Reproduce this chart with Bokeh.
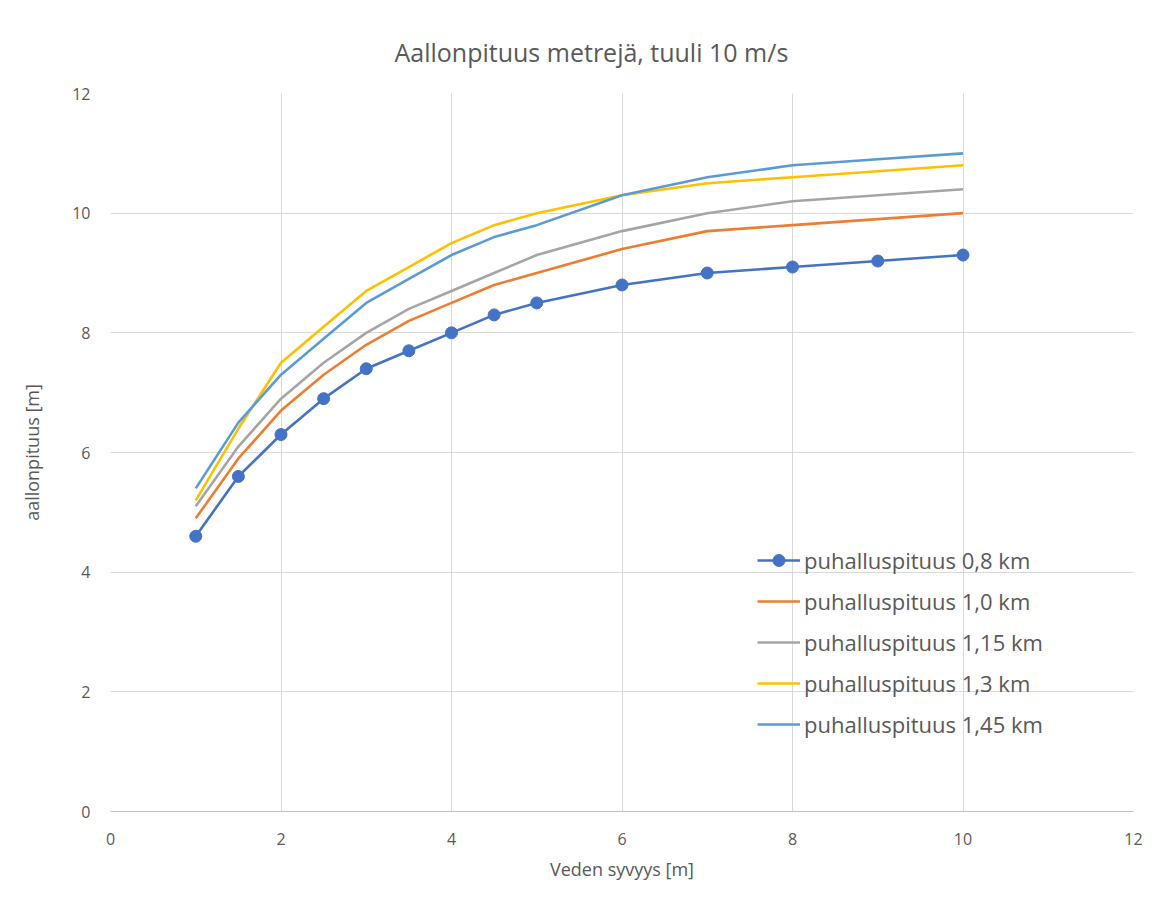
from bokeh.plotting import figure
from bokeh.models import Legend, LegendItem, FixedTicker, Range1d
from bokeh.embed import file_html
from bokeh.resources import INLINE

# Data
depth = [1, 1.5, 2, 2.5, 3, 3.5, 4, 4.5, 5, 6, 7, 8, 9, 10]
s_08 = [4.6, 5.6, 6.3, 6.9, 7.4, 7.7, 8.0, 8.3, 8.5, 8.8, 9.0, 9.1, 9.2, 9.3]
s_10 = [4.9, 5.9, 6.7, 7.3, 7.8, 8.2, 8.5, 8.8, 9.0, 9.4, 9.7, 9.8, 9.9, 10.0]
s_115 = [5.1, 6.1, 6.9, 7.5, 8.0, 8.4, 8.7, 9.0, 9.3, 9.7, 10.0, 10.2, 10.3, 10.4]
s_13 = [5.2, 6.4, 7.5, 8.1, 8.7, 9.1, 9.5, 9.8, 10.0, 10.3, 10.5, 10.6, 10.7, 10.8]
s_145 = [5.4, 6.5, 7.3, 7.9, 8.5, 8.9, 9.3, 9.6, 9.8, 10.3, 10.6, 10.8, 10.9, 11.0]
labels = ["puhalluspituus 0,8 km", "puhalluspituus 1,0 km", "puhalluspituus 1,15 km",
          "puhalluspituus 1,3 km", "puhalluspituus 1,45 km"]
colors = ["#4472C4", "#ED7D31", "#A5A5A5", "#FFC000", "#5B9BD5"]
ticks = [0, 2, 4, 6, 8, 10, 12]
title_text = "Aallonpituus metrejä, tuuli 10 m/s"

FONT = "Open Sans"
TXT = "#595959"

p = figure(width=1145, height=883, output_backend="svg", toolbar_location=None,
           x_range=Range1d(0, 12), y_range=Range1d(0, 12),
           min_border_left=110, min_border_right=12, min_border_top=93, min_border_bottom=71)

p.outline_line_color = None
p.background_fill_color = "white"
p.border_fill_color = "white"

p.title.text = title_text
p.title.align = "left"
p.title.offset = 284
p.title.standoff = 50
p.title.text_font = FONT
p.title.text_font_size = "25px"
p.title.text_font_style = "normal"
p.title.text_color = TXT

for ax in (p.xaxis[0], p.yaxis[0]):
    ax.ticker = FixedTicker(ticks=ticks)
    ax.major_tick_line_color = None
    ax.minor_tick_line_color = None
    ax.major_label_text_font = FONT
    ax.major_label_text_font_size = "16px"
    ax.major_label_text_color = TXT
    ax.axis_label_text_font = FONT
    ax.axis_label_text_font_size = "18px"
    ax.axis_label_text_font_style = "normal"
    ax.axis_label_text_color = TXT

p.xaxis.axis_label = "Veden syvyys [m]"
p.yaxis.axis_label = "aallonpituus [m]"
p.xaxis.axis_line_color = "#BFBFBF"
p.xaxis.axis_line_width = 1
p.yaxis.axis_line_color = None
p.xaxis.major_label_standoff = 15
p.yaxis.major_label_standoff = 14
p.xaxis.axis_label_standoff = 9
p.yaxis.axis_label_standoff = 25

p.xgrid.ticker = FixedTicker(ticks=ticks)
p.ygrid.ticker = FixedTicker(ticks=ticks)
p.xgrid.grid_line_color = "#D9D9D9"
p.ygrid.grid_line_color = "#D9D9D9"

series = [s_08, s_10, s_115, s_13, s_145]
items = []
for i, (vals, col, lab) in enumerate(zip(series, colors, labels)):
    rs = [p.line(depth, vals, line_color=col, line_width=2.6, line_join="round")]
    if i == 0:
        rs.append(p.scatter(depth, vals, size=12, fill_color=col, line_color=col))
    items.append(LegendItem(label=lab, renderers=rs))

legend = Legend(items=items, location=(647, 67), orientation="vertical",
                background_fill_alpha=0, border_line_color=None,
                label_text_font=FONT, label_text_font_size="22px", label_text_color=TXT,
                glyph_width=43, glyph_height=30, label_height=41, label_standoff=4,
                spacing=0, padding=0, margin=0)
p.add_layout(legend)

open("out.html", "w").write(file_html(p, INLINE))
